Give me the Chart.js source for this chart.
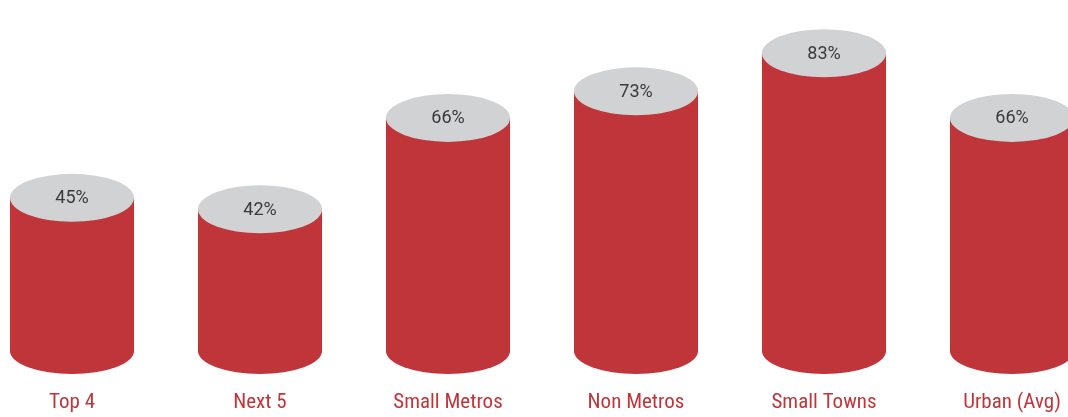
<!DOCTYPE html>
<html>
<head>
<meta charset="utf-8">
<script src="https://cdn.jsdelivr.net/npm/chart.js@4.4.1/dist/chart.umd.min.js"></script>
<style>
  html, body { margin: 0; padding: 0; background: #fff; overflow: hidden; }
  #wrap { position: relative; width: 1068px; height: 417px; overflow: hidden; }
  #cyl_chart { position: absolute; left: -22px; top: 0; }
</style>
</head>
<body>
<div id="wrap"><canvas id="cyl_chart" width="1128" height="417"></canvas></div>
<script>
const categories = ['Top 4', 'Next 5', 'Small Metros', 'Non Metros', 'Small Towns', 'Urban (Avg)'];
const shares = [45, 42, 66, 73, 83, 66];

const RED = '#c0353a';
const CAP = '#d1d2d4';

// draws each bar as a cylinder: red body, rounded bottom, grey lid with the value
const cylinders = {
  id: 'cylinders',
  afterDatasetsDraw(chart) {
    const ctx = chart.ctx;
    const meta = chart.getDatasetMeta(0);
    meta.data.forEach((bar, i) => {
      const rx = bar.width / 2;
      const cx = bar.x;
      const top = bar.y;
      const lidRy = 24;
      const baseRy = 23;
      const bottom = bar.base - 18;

      ctx.save();
      ctx.fillStyle = RED;
      ctx.beginPath();
      ctx.moveTo(cx - rx, top);
      ctx.lineTo(cx - rx, bottom);
      ctx.ellipse(cx, bottom, rx, baseRy, 0, Math.PI, 0, true);
      ctx.lineTo(cx + rx, top);
      ctx.closePath();
      ctx.fill();

      ctx.fillStyle = CAP;
      ctx.beginPath();
      ctx.ellipse(cx, top, rx, lidRy, 0, 0, Math.PI * 2);
      ctx.fill();

      ctx.fillStyle = '#3a3a3a';
      ctx.font = '18px Roboto';
      ctx.textAlign = 'center';
      ctx.textBaseline = 'middle';
      ctx.fillText(shares[i] + '%', cx, top + 1);
      ctx.restore();
    });
  }
};

new Chart(document.getElementById('cyl_chart'), {
  type: 'bar',
  data: {
    labels: categories,
    datasets: [{
      data: shares,
      backgroundColor: 'rgba(0,0,0,0)',
      categoryPercentage: 1,
      barPercentage: 0.66,
    }],
  },
  options: {
    responsive: false,
    animation: false,
    layout: { padding: 0 },
    plugins: { legend: { display: false }, tooltip: { enabled: false } },
    scales: {
      x: {
        grid: { display: false, drawTicks: false },
        border: { display: false },
        afterFit(scale) { scale.height = 48; },
        ticks: {
          color: RED,
          padding: 21,
          font: { family: "'Roboto Condensed', 'Liberation Sans Narrow', Roboto", size: 21 },
          maxRotation: 0,
          autoSkip: false,
        },
      },
      y: { display: false, min: 0, max: 97 },
    },
  },
  plugins: [cylinders],
});
</script>
</body>
</html>
